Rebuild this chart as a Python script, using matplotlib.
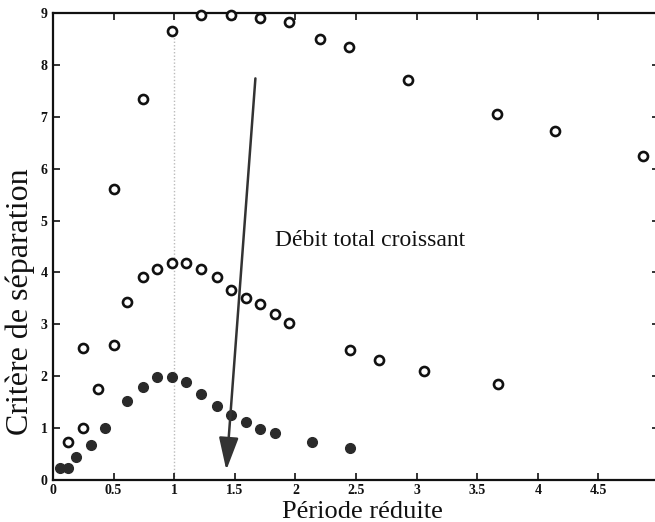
import matplotlib
matplotlib.use("Agg")
import matplotlib.pyplot as plt

# ---- data ----
x_high = [0.25, 0.50, 0.74, 0.98, 1.22, 1.47, 1.71, 1.95, 2.20, 2.44, 2.93, 3.66, 4.14, 4.87]
y_high = [2.55, 5.60, 7.35, 8.65, 8.97, 8.97, 8.90, 8.83, 8.50, 8.34, 7.70, 7.05, 6.72, 6.24]

x_mid = [0.125, 0.25, 0.37, 0.50, 0.61, 0.74, 0.86, 0.98, 1.10, 1.22, 1.35, 1.47, 1.59, 1.71,
         1.83, 1.95, 2.45, 2.69, 3.06, 3.67]
y_mid = [0.73, 1.00, 1.76, 2.60, 3.44, 3.92, 4.07, 4.19, 4.19, 4.07, 3.92, 3.67, 3.51, 3.40,
         3.20, 3.03, 2.51, 2.32, 2.11, 1.85]

x_low = [0.06, 0.125, 0.19, 0.31, 0.43, 0.61, 0.74, 0.86, 0.98, 1.10, 1.22, 1.35, 1.47, 1.59,
         1.71, 1.83, 2.14, 2.45]
y_low = [0.23, 0.23, 0.44, 0.68, 1.00, 1.53, 1.80, 1.99, 1.99, 1.89, 1.66, 1.43, 1.25, 1.12,
         0.99, 0.90, 0.73, 0.62]

x_ticks = [0, 0.5, 1, 1.5, 2, 2.5, 3, 3.5, 4, 4.5, 5]
x_ticklabels = ["0", "0.5", "1", "1.5", "2", "2.5", "3", "3.5", "4", "4.5", "5"]
y_ticks = [0, 1, 2, 3, 4, 5, 6, 7, 8, 9]
y_ticklabels = ["0", "1", "2", "3", "4", "5", "6", "7", "8", "9"]

ref_x = 1.0
ref_top = 8.6
arrow_start = (1.67, 7.74)
arrow_end = (1.43, 0.19)
annot_text = "Débit total croissant"
annot_pos = (1.83, 4.62)

xlabel = "Période réduite"
ylabel = "Critère de séparation"

# ---- figure ----
plt.rcParams['font.family'] = ['Liberation Serif', 'DejaVu Serif']
fig = plt.figure(figsize=(6.55, 5.22), dpi=100)
ax = fig.add_axes([53/655, 42/522, 606/655, 467/522])

ax.vlines(ref_x, 0, ref_top, colors='#bbbbbb', linestyles=(0, (1, 1.5)), linewidth=1.0, zorder=1)

ax.plot(x_high, y_high, 'o', mfc='white', mec='#111111', mew=1.9, ms=6.5, clip_on=False, zorder=3)
ax.plot(x_mid, y_mid, 'o', mfc='white', mec='#111111', mew=1.9, ms=6.5, clip_on=False, zorder=3)
ax.plot(x_low, y_low, 'o', mfc='#2a2a2a', mec='#2a2a2a', mew=1.0, ms=7, clip_on=False, zorder=3)

ax.annotate('', xy=arrow_end, xytext=arrow_start,
            arrowprops=dict(arrowstyle='-|>,head_length=2.0,head_width=0.6',
                            mutation_scale=10, color='#333333', lw=1.8,
                            shrinkA=0, shrinkB=0), zorder=4)
ax.text(annot_pos[0], annot_pos[1], annot_text, fontsize=17, va='center', ha='left', color='#111111')

ax.set_xlim(0, 5)
ax.set_ylim(0, 9)
ax.set_xticks(x_ticks)
ax.set_xticklabels(x_ticklabels)
ax.set_yticks(y_ticks)
ax.set_yticklabels(y_ticklabels)
ax.tick_params(direction='in', top=True, right=True, length=5, width=1.2,
               labelsize=10, pad=4, colors='#111111')
ax.tick_params(axis='x', pad=3)
for lab in ax.get_xticklabels() + ax.get_yticklabels():
    lab.set_fontweight('bold')
for s in ax.spines.values():
    s.set_linewidth(1.6)
    s.set_color('#111111')

ax.set_xlabel(xlabel, fontsize=19, color='#111111', va='baseline')
ax.set_ylabel(ylabel, fontsize=23, color='#111111')
ax.xaxis.set_label_coords(0.51, -0.082)
ax.yaxis.set_label_coords(-0.03, 0.381)

fig.savefig('out.png', dpi=100)
